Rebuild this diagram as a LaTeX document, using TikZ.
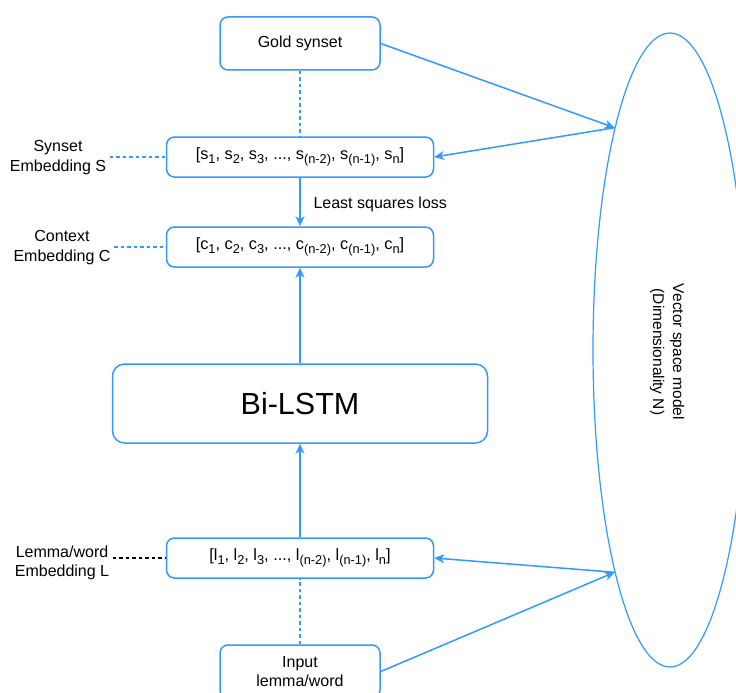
\documentclass[tikz,border=0pt]{standalone}
\usepackage{fontspec}
\setmainfont{Liberation Sans}
\usetikzlibrary{arrows.meta,shapes.geometric}
\definecolor{blu}{RGB}{51,153,255}
\newcommand{\sbs}[1]{\raisebox{-0.28em}{\fontsize{12.8}{12}\selectfont #1}}
\begin{document}
\begin{tikzpicture}[x=1pt,y=-1pt,
  box/.style={draw=blu, line width=1.5pt, rounded corners=8pt, inner sep=0pt, align=center, font=\fontsize{16.3}{19}\selectfont},
  conn/.style={draw=blu, line width=1.5pt, -{Stealth[length=10pt,width=9pt,inset=3pt]}},
  dashblue/.style={draw=blu, line width=1.6pt, dash pattern=on 3.5pt off 3pt},
  dashblack/.style={draw=black, line width=1.2pt, dash pattern=on 3.5pt off 3pt},
  lbl/.style={align=center, font=\fontsize{16}{19.5}\selectfont},
  txt/.style={font=\fontsize{16}{19}\selectfont}]
\clip (0,0) rectangle (736,693);
\fill[white] (0,0) rectangle (736,693);
\node[box, minimum width=160pt, minimum height=53pt, font=\fontsize{16}{19}\selectfont] (gold) at (300,43.5) {Gold synset};
\node[box, minimum width=267pt, minimum height=40pt] (synset) at (300,157) {[s\sbs{1}, s\sbs{2}, s\sbs{3}, ..., s\sbs{(n-2)}, s\sbs{(n-1)}, s\sbs{n}]};
\node[box, minimum width=267pt, minimum height=40pt] (context) at (300,247) {[c\sbs{1}, c\sbs{2}, c\sbs{3}, ..., c\sbs{(n-2)}, c\sbs{(n-1)}, c\sbs{n}]};
\node[box, minimum width=375pt, minimum height=79pt, rounded corners=12pt, font=\fontsize{30.5}{36}\selectfont] (bilstm) at (300,403.5) {Bi-LSTM};
\node[box, minimum width=267pt, minimum height=40pt] (lemma) at (300,558) {[l\sbs{1}, l\sbs{2}, l\sbs{3}, ..., l\sbs{(n-2)}, l\sbs{(n-1)}, l\sbs{n}]};
\node[box, minimum width=160pt, minimum height=53pt, font=\fontsize{16}{19}\selectfont] (input) at (300,671.5) {Input\\lemma/word};
\node[ellipse, draw=blu, line width=1.2pt, minimum width=154pt, minimum height=634pt, inner sep=0pt] (vsm) at (670,350) {};
\node[rotate=-90, align=center, font=\fontsize{15.5}{20}\selectfont] (vt) at (667,352) {Vector space model\\(Dimensionality N)};

\node[lbl] (ls) at (58,157.5) {Synset\\Embedding S};
\node[lbl] (lc) at (62,247.5) {Context\\Embedding C};
\node[lbl] (ll) at (62,563) {Lemma/word\\Embedding L};
\node[txt, anchor=west] (lsl) at (310,204) {Least squares loss};

\draw[dashblue] (gold) -- (synset);
\draw[conn] (synset) -- (context);
\draw[conn] (bilstm) -- (context);
\draw[conn] (lemma) -- (bilstm);
\draw[dashblue] (input) -- (lemma);
\draw[dashblue] (ls.east |- synset.west) -- (synset.west);
\draw[dashblue] (lc.east |- context.west) -- (context.west);
\draw[dashblack] (ll.east |- lemma.west) -- (lemma.west);
\draw[conn] (gold.east) -- (vsm.104.5);
\draw[conn] (vsm.104.5) -- (synset.east);
\draw[conn] (input.east) -- (vsm.256.6);
\draw[conn] (vsm.256.6) -- (lemma.east);
\end{tikzpicture}
\end{document}
